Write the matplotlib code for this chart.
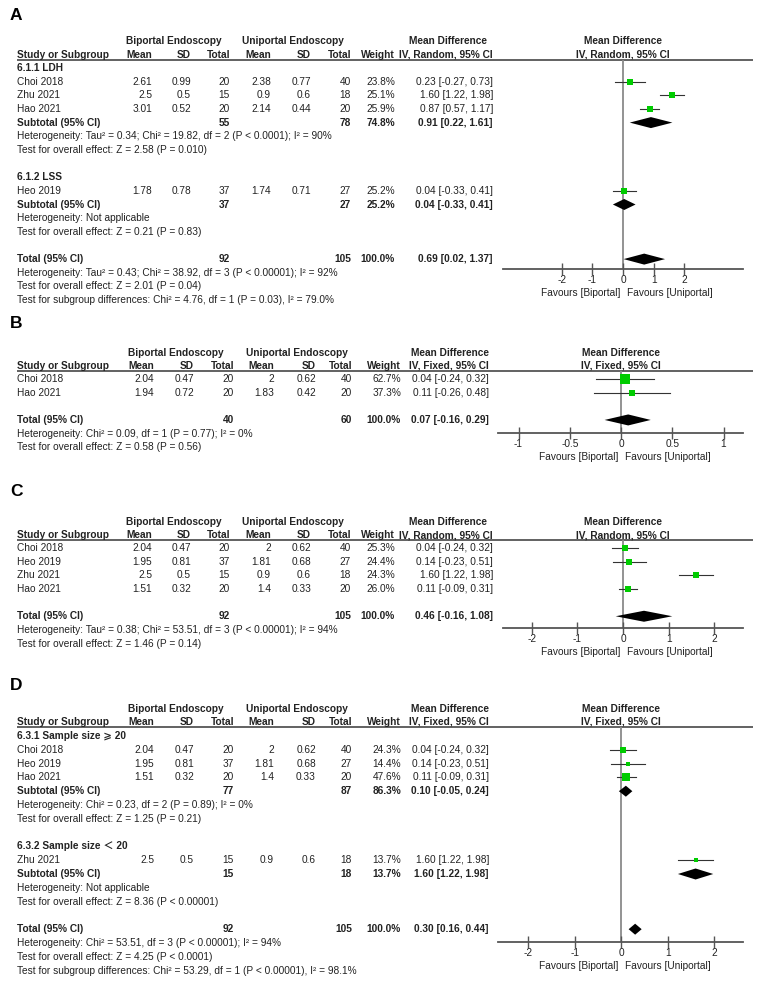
import matplotlib
matplotlib.use("Agg")
import matplotlib.pyplot as plt
import numpy as np

plt.rcParams['font.family'] = ['Liberation Sans', 'DejaVu Sans', 'Noto Sans CJK SC']
plt.rcParams['axes.unicode_minus'] = False

W, H = 761, 994
FS = 7.3
INK = '#222222'
GREEN = '#00cc00'
GREY = '#8a8a8a'

# ---------------- A : subgroups by diagnosis, random effects ----------------
A_study = ['Choi 2018', 'Zhu 2021', 'Hao 2021', 'Heo 2019']
A_grp = [0, 0, 0, 1]
A_bi_mean = [2.61, 2.5, 3.01, 1.78]
A_bi_sd = [0.99, 0.5, 0.52, 0.78]
A_bi_n = [20, 15, 20, 37]
A_uni_mean = [2.38, 0.9, 2.14, 1.74]
A_uni_sd = [0.77, 0.6, 0.44, 0.71]
A_uni_n = [40, 18, 20, 27]
A_weight = [23.8, 25.1, 25.9, 25.2]
A_md = [0.23, 1.60, 0.87, 0.04]
A_lo = [-0.27, 1.22, 0.57, -0.33]
A_hi = [0.73, 1.98, 1.17, 0.41]
A_sub_name = ['6.1.1 LDH', '6.1.2 LSS']
A_sub_bi_n = [55, 37]
A_sub_uni_n = [78, 27]
A_sub_w = [74.8, 25.2]
A_sub_md = [0.91, 0.04]
A_sub_lo = [0.22, -0.33]
A_sub_hi = [1.61, 0.41]
A_sub_het = ['Heterogeneity: Tau² = 0.34; Chi² = 19.82, df = 2 (P < 0.0001); I² = 90%',
             'Heterogeneity: Not applicable']
A_sub_z = ['Test for overall effect: Z = 2.58 (P = 0.010)',
           'Test for overall effect: Z = 0.21 (P = 0.83)']
A_total = [92, 105, 100.0, 0.69, 0.02, 1.37]
A_notes = ['Heterogeneity: Tau² = 0.43; Chi² = 38.92, df = 3 (P < 0.00001); I² = 92%',
           'Test for overall effect: Z = 2.01 (P = 0.04)',
           'Test for subgroup differences: Chi² = 4.76, df = 1 (P = 0.03), I² = 79.0%']
A_ticks = [-2, -1, 0, 1, 2]

# ---------------- B : fixed effects ----------------
B_study = ['Choi 2018', 'Hao 2021']
B_bi_mean = [2.04, 1.94]
B_bi_sd = [0.47, 0.72]
B_bi_n = [20, 20]
B_uni_mean = [2, 1.83]
B_uni_sd = [0.62, 0.42]
B_uni_n = [40, 20]
B_weight = [62.7, 37.3]
B_md = [0.04, 0.11]
B_lo = [-0.24, -0.26]
B_hi = [0.32, 0.48]
B_total = [40, 60, 100.0, 0.07, -0.16, 0.29]
B_notes = ['Heterogeneity: Chi² = 0.09, df = 1 (P = 0.77); I² = 0%',
           'Test for overall effect: Z = 0.58 (P = 0.56)']
B_ticks = [-1, -0.5, 0, 0.5, 1]

# ---------------- C : random effects ----------------
C_study = ['Choi 2018', 'Heo 2019', 'Zhu 2021', 'Hao 2021']
C_bi_mean = [2.04, 1.95, 2.5, 1.51]
C_bi_sd = [0.47, 0.81, 0.5, 0.32]
C_bi_n = [20, 37, 15, 20]
C_uni_mean = [2, 1.81, 0.9, 1.4]
C_uni_sd = [0.62, 0.68, 0.6, 0.33]
C_uni_n = [40, 27, 18, 20]
C_weight = [25.3, 24.4, 24.3, 26.0]
C_md = [0.04, 0.14, 1.60, 0.11]
C_lo = [-0.24, -0.23, 1.22, -0.09]
C_hi = [0.32, 0.51, 1.98, 0.31]
C_total = [92, 105, 100.0, 0.46, -0.16, 1.08]
C_notes = ['Heterogeneity: Tau² = 0.38; Chi² = 53.51, df = 3 (P < 0.00001); I² = 94%',
           'Test for overall effect: Z = 1.46 (P = 0.14)']
C_ticks = [-2, -1, 0, 1, 2]

# ---------------- D : subgroups by sample size, fixed effects ----------------
D_study = ['Choi 2018', 'Heo 2019', 'Hao 2021', 'Zhu 2021']
D_grp = [0, 0, 0, 1]
D_bi_mean = [2.04, 1.95, 1.51, 2.5]
D_bi_sd = [0.47, 0.81, 0.32, 0.5]
D_bi_n = [20, 37, 20, 15]
D_uni_mean = [2, 1.81, 1.4, 0.9]
D_uni_sd = [0.62, 0.68, 0.33, 0.6]
D_uni_n = [40, 27, 20, 18]
D_weight = [24.3, 14.4, 47.6, 13.7]
D_md = [0.04, 0.14, 0.11, 1.60]
D_lo = [-0.24, -0.23, -0.09, 1.22]
D_hi = [0.32, 0.51, 0.31, 1.98]
D_sub_name = ['6.3.1 Sample size ⩾ 20', '6.3.2 Sample size ＜ 20']
D_sub_bi_n = [77, 15]
D_sub_uni_n = [87, 18]
D_sub_w = [86.3, 13.7]
D_sub_md = [0.10, 1.60]
D_sub_lo = [-0.05, 1.22]
D_sub_hi = [0.24, 1.98]
D_sub_het = ['Heterogeneity: Chi² = 0.23, df = 2 (P = 0.89); I² = 0%',
             'Heterogeneity: Not applicable']
D_sub_z = ['Test for overall effect: Z = 1.25 (P = 0.21)',
           'Test for overall effect: Z = 8.36 (P < 0.00001)']
D_total = [92, 105, 100.0, 0.30, 0.16, 0.44]
D_notes = ['Heterogeneity: Chi² = 53.51, df = 3 (P < 0.00001); I² = 94%',
           'Test for overall effect: Z = 4.25 (P < 0.0001)',
           'Test for subgroup differences: Chi² = 53.29, df = 1 (P < 0.00001), I² = 98.1%']
D_ticks = [-2, -1, 0, 1, 2]

# column x positions (pixels), two table widths used in the figure
COLS_WIDE = dict(bm=152, bs=191, bn=230, um=271, us=311, un=351, w=395, ci=493,
                 bi_hdr=126, uni_hdr=242, md_hdr=448)
COLS_NARROW = dict(bm=154, bs=194, bn=234, um=274, us=316, un=352, w=401, ci=489,
                   bi_hdr=128, uni_hdr=246, md_hdr=450)


def pack(study, bm, bs, bn, um, us, un, w, md, lo, hi, total, notes, ticks, grp=None,
         sub=None):
    return dict(study=study, bm=bm, bs=bs, bn=bn, um=um, us=us, un=un, w=w, md=md,
                lo=lo, hi=hi, total=total, notes=notes, ticks=ticks,
                grp=grp, sub=sub)


panels = [
    (pack(A_study, A_bi_mean, A_bi_sd, A_bi_n, A_uni_mean, A_uni_sd, A_uni_n, A_weight,
          A_md, A_lo, A_hi, A_total, A_notes, A_ticks, A_grp,
          (A_sub_name, A_sub_bi_n, A_sub_uni_n, A_sub_w, A_sub_md, A_sub_lo, A_sub_hi,
           A_sub_het, A_sub_z)),
     dict(tag='A', lab_y=16, line=59.5, r0=68, step=13.65, fx=(503, 743),
          xlim=(-3.91, 3.91), axis_y=269, method='IV, Random, 95% CI', cols=COLS_WIDE)),
    (pack(B_study, B_bi_mean, B_bi_sd, B_bi_n, B_uni_mean, B_uni_sd, B_uni_n, B_weight,
          B_md, B_lo, B_hi, B_total, B_notes, B_ticks),
     dict(tag='B', lab_y=323, line=371, r0=379, step=13.65, fx=(498, 743),
          xlim=(-1.2, 1.19), axis_y=433, method='IV, Fixed, 95% CI', cols=COLS_NARROW)),
    (pack(C_study, C_bi_mean, C_bi_sd, C_bi_n, C_uni_mean, C_uni_sd, C_uni_n, C_weight,
          C_md, C_lo, C_hi, C_total, C_notes, C_ticks),
     dict(tag='C', lab_y=491, line=540, r0=548, step=13.65, fx=(503, 743),
          xlim=(-2.63, 2.63), axis_y=628, method='IV, Random, 95% CI', cols=COLS_WIDE)),
    (pack(D_study, D_bi_mean, D_bi_sd, D_bi_n, D_uni_mean, D_uni_sd, D_uni_n, D_weight,
          D_md, D_lo, D_hi, D_total, D_notes, D_ticks, D_grp,
          (D_sub_name, D_sub_bi_n, D_sub_uni_n, D_sub_w, D_sub_md, D_sub_lo, D_sub_hi,
           D_sub_het, D_sub_z)),
     dict(tag='D', lab_y=686, line=727, r0=736, step=13.8, fx=(498, 743),
          xlim=(-2.65, 2.62), axis_y=942, method='IV, Fixed, 95% CI', cols=COLS_NARROW)),
]

fig = plt.figure(figsize=(W / 100, H / 100), dpi=100)
tx = fig.add_axes([0, 0, 1, 1])
tx.set_xlim(0, W)
tx.set_ylim(H, 0)
tx.axis('off')


def put(x, y, s, ha='left', bold=False, size=FS, color=INK):
    tx.text(x, y, s, ha=ha, va='center', fontsize=size, color=color,
            fontweight='bold' if bold else 'normal')


def ci_text(md, lo, hi):
    return '%.2f [%.2f, %.2f]' % (md, lo, hi)


def draw(d, lay):
    c = lay['cols']
    line = lay['line']
    put(10, lay['lab_y'], lay['tag'], bold=True, size=12.5, color='black')

    # header
    put(c['bi_hdr'], line - 18, 'Biportal Endoscopy', bold=True)
    put(c['uni_hdr'], line - 18, 'Uniportal Endoscopy', bold=True)
    put(c['md_hdr'], line - 18, 'Mean Difference', ha='center', bold=True)
    fc = (lay['fx'][0] + lay['fx'][1]) / 2
    put(fc, line - 18, 'Mean Difference', ha='center', bold=True)
    put(17, line - 5, 'Study or Subgroup', bold=True)
    for key, lab in [('bm', 'Mean'), ('bs', 'SD'), ('bn', 'Total'), ('um', 'Mean'),
                     ('us', 'SD'), ('un', 'Total'), ('w', 'Weight'), ('ci', lay['method'])]:
        put(c[key], line - 5, lab, ha='right', bold=True)
    put(fc, line - 5, lay['method'], ha='center', bold=True)
    tx.plot([17, 753], [line, line], color='#555555', lw=1.3, solid_capstyle='butt')

    # row order
    rows = []
    if d['grp'] is not None:
        for g in range(len(d['sub'][0])):
            rows.append(('group', g))
            rows += [('study', i) for i in range(len(d['study'])) if d['grp'][i] == g]
            rows += [('sub', g), ('het', g), ('z', g), ('blank', 0)]
    else:
        rows += [('study', i) for i in range(len(d['study']))]
        rows.append(('blank', 0))
    rows.append(('total', 0))
    rows += [('note', k) for k in range(len(d['notes']))]

    x0, x1 = lay['fx']
    ay = lay['axis_y']
    ax = fig.add_axes([x0 / W, 1 - ay / H, (x1 - x0) / W, (ay - line) / H])
    ax.patch.set_visible(False)
    ax.set_xlim(lay['xlim'])
    ax.set_ylim(ay, line)
    for s in ['top', 'left', 'right']:
        ax.spines[s].set_visible(False)
    ax.spines['bottom'].set_color('#555555')
    ax.spines['bottom'].set_linewidth(1.3)
    ax.set_yticks([])
    ax.set_xticks(d['ticks'])
    ax.set_xticklabels(['%g' % v for v in d['ticks']])
    ax.tick_params(axis='x', direction='inout', length=8, width=1, colors='#555555',
                   labelcolor=INK, labelsize=FS, pad=0)
    ax.axvline(0, color=GREY, lw=1.3, zorder=1)
    ax.annotate('Favours [Biportal]', xy=(0, 0), xycoords=('data', 'axes fraction'),
                xytext=(-3, -24), textcoords='offset pixels', ha='right', va='center',
                fontsize=FS, color=INK)
    ax.annotate('Favours [Uniportal]', xy=(0, 0), xycoords=('data', 'axes fraction'),
                xytext=(4, -24), textcoords='offset pixels', ha='left', va='center',
                fontsize=FS, color=INK)

    def diamond(y, md, lo, hi):
        ax.fill([lo, md, hi, md], [y, y - 5.5, y, y + 5.5], color='black', lw=0, zorder=3)

    for k, (kind, i) in enumerate(rows):
        y = lay['r0'] + k * lay['step']
        if kind == 'group':
            put(17, y, d['sub'][0][i], bold=True)
        elif kind == 'study':
            put(17, y, d['study'][i])
            for key in ['bm', 'bs', 'bn', 'um', 'us', 'un']:
                put(c[key], y, '%g' % d[key][i], ha='right')
            put(c['w'], y, '%.1f%%' % d['w'][i], ha='right')
            put(c['ci'], y, ci_text(d['md'][i], d['lo'][i], d['hi'][i]), ha='right')
            ax.plot([d['lo'][i], d['hi'][i]], [y, y], color='#333333', lw=0.8, zorder=2)
            ax.plot(d['md'][i], y, marker='s', ms=1.14 * np.sqrt(d['w'][i]) * 0.72,
                    color=GREEN, mec=GREEN, mew=0, zorder=3)
        elif kind == 'sub':
            name, sbn, sun, sw, smd, slo, shi, _, _ = d['sub']
            put(17, y, 'Subtotal (95% CI)', bold=True)
            put(c['bn'], y, '%d' % sbn[i], ha='right', bold=True)
            put(c['un'], y, '%d' % sun[i], ha='right', bold=True)
            put(c['w'], y, '%.1f%%' % sw[i], ha='right', bold=True)
            put(c['ci'], y, ci_text(smd[i], slo[i], shi[i]), ha='right', bold=True)
            diamond(y, smd[i], slo[i], shi[i])
        elif kind == 'het':
            put(17, y, d['sub'][7][i])
        elif kind == 'z':
            put(17, y, d['sub'][8][i])
        elif kind == 'total':
            tbn, tun, tw, tmd, tlo, thi = d['total']
            put(17, y, 'Total (95% CI)', bold=True)
            put(c['bn'], y, '%d' % tbn, ha='right', bold=True)
            put(c['un'], y, '%d' % tun, ha='right', bold=True)
            put(c['w'], y, '%.1f%%' % tw, ha='right', bold=True)
            put(c['ci'], y, ci_text(tmd, tlo, thi), ha='right', bold=True)
            diamond(y, tmd, tlo, thi)
        elif kind == 'note':
            put(17, y, d['notes'][i])


for d, lay in panels:
    draw(d, lay)

fig.savefig('out.png', dpi=100, facecolor='white')
